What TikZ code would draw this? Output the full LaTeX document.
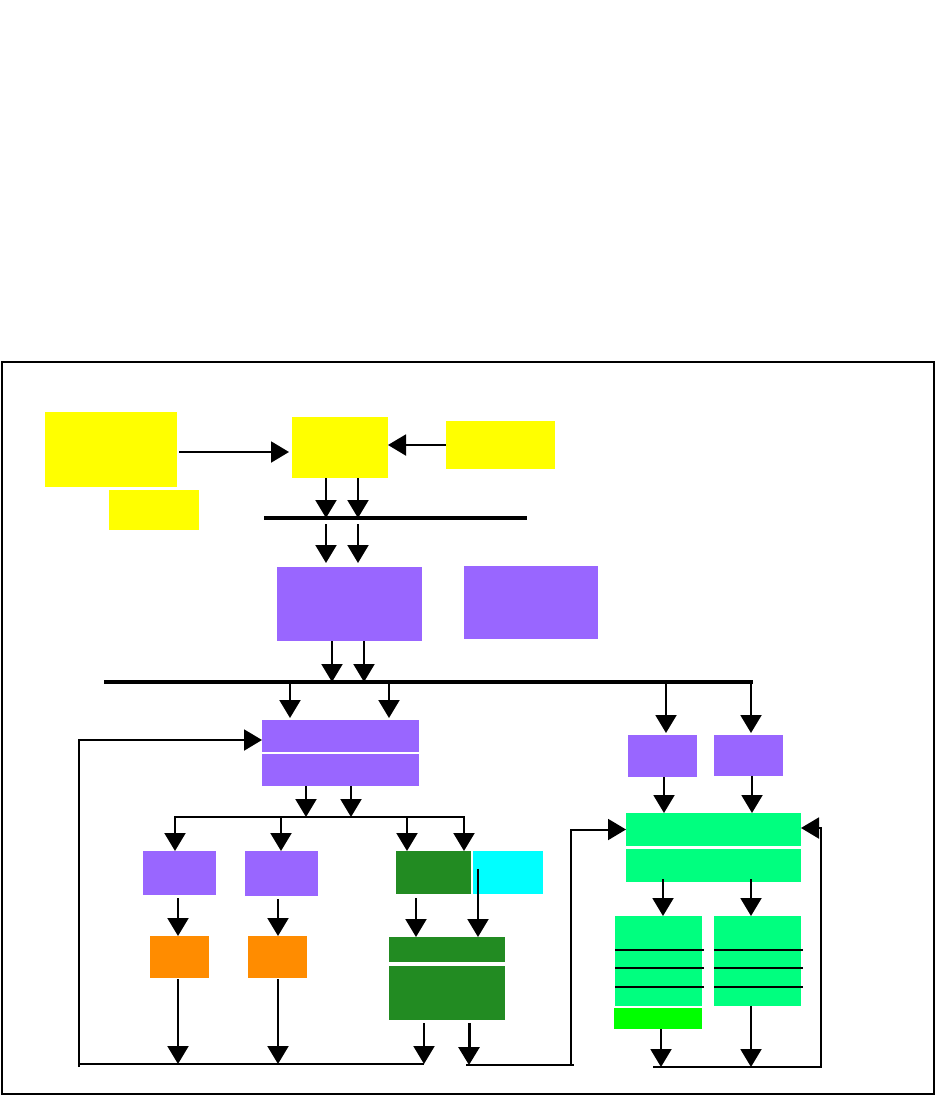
\documentclass[tikz,border=0pt]{standalone}
\usepackage{xcolor}
\usepackage{tikz}
\usetikzlibrary{arrows.meta}
\definecolor{ylw}{HTML}{FFFF00}
\definecolor{vio}{HTML}{9966FF}
\definecolor{orng}{HTML}{FF8C00}
\definecolor{fgrn}{HTML}{228B22}
\definecolor{cyn}{HTML}{00FFFF}
\definecolor{sgrn}{HTML}{00FF7F}
\definecolor{lgrn}{HTML}{00FF00}

\begin{document}
\begin{tikzpicture}[x=1pt, y=-1pt, box/.style={inner sep=0pt, outer sep=0pt, anchor=north west}, arr/.style={-{Triangle[length=18pt,width=21pt]}, line width=2pt}, arrr/.style={{Triangle[length=18pt,width=21pt]}-{Triangle[length=18pt,width=21pt]}, line width=2pt}, link/.style={line width=2pt}, bus/.style={line width=4.5pt}, rule/.style={line width=1.7pt}]
\useasboundingbox (0,0) rectangle (936,1096);
\draw[line width=1.3pt] (2,362) rectangle (934,1094);
% top row
\node[box, fill=ylw, minimum width=132pt, minimum height=75pt] (y1) at (45,412) {};
\node[box, fill=ylw, minimum width=90pt, minimum height=40pt] (y2) at (109,490) {};
\node[box, fill=ylw, minimum width=96pt, minimum height=61pt] (y3) at (292,417) {};
\node[box, fill=ylw, minimum width=109pt, minimum height=48pt] (y4) at (446,421) {};
\node[box, fill=vio, minimum width=145pt, minimum height=74pt] (p1) at (277,567) {};
\node[box, fill=vio, minimum width=134pt, minimum height=73pt] (p2) at (464,566) {};
% left branch
\node[box, fill=vio, minimum width=157pt, minimum height=32pt] (p3a) at (262,720) {};
\node[box, fill=vio, minimum width=157pt, minimum height=32pt] (p3b) at (262,754) {};
\node[box, fill=vio, minimum width=73pt, minimum height=44pt] (p6) at (143,851) {};
\node[box, fill=vio, minimum width=73pt, minimum height=45pt] (p7) at (245,851) {};
\node[box, fill=orng, minimum width=59pt, minimum height=42pt] (o1) at (150,936) {};
\node[box, fill=orng, minimum width=59pt, minimum height=42pt] (o2) at (248,936) {};
\node[box, fill=fgrn, minimum width=75pt, minimum height=43pt] (dg1) at (396,851) {};
\node[box, fill=cyn, minimum width=70pt, minimum height=43pt] (cy) at (473,851) {};
\node[box, fill=fgrn, minimum width=116pt, minimum height=25pt] (dg2) at (389,937) {};
\node[box, fill=fgrn, minimum width=116pt, minimum height=54pt] (dg3) at (389,966) {};
% right branch
\node[box, fill=vio, minimum width=69pt, minimum height=42pt] (p4) at (628,735) {};
\node[box, fill=vio, minimum width=69pt, minimum height=41pt] (p5) at (714,735) {};
\node[box, fill=sgrn, minimum width=175pt, minimum height=33pt] (g1a) at (626,813) {};
\node[box, fill=sgrn, minimum width=175pt, minimum height=33pt] (g1b) at (626,849) {};
\node[box, fill=sgrn, minimum width=87pt, minimum height=90pt] (g3) at (615,916) {};
\node[box, fill=sgrn, minimum width=87pt, minimum height=90pt] (g4) at (714,916) {};
\node[box, fill=lgrn, minimum width=88pt, minimum height=21pt] (g5) at (614,1008) {};
\foreach \ry/\rw in {950/1.7pt,968/2.4pt,987/1.7pt} {
  \draw[rule, line width=\rw] (g3.west |- 0,\ry) -- ++(89,0);
  \draw[rule, line width=\rw] (g4.west |- 0,\ry) -- ++(89,0);
}
% buses
\coordinate (b1) at (264,518);
\coordinate (b1e) at (527,518);
\coordinate (b2) at (104,682);
\coordinate (b2e) at (753,682);
\coordinate (b3) at (175,817);
\coordinate (b3e) at (464,817);
\coordinate (fbl) at (79,1064);
\coordinate (ml) at (466,1065);
\coordinate (mr) at (571,1065);
\coordinate (rl) at (653,1067);
\coordinate (rr) at (821,1067);
% top arrows
\draw[arr] ([xshift=2pt]y1.east |- 0,452) -- ([xshift=-3pt]y3.west |- 0,452);
\draw[arr] (y4.west) -- (y4.west -| y3.east);
\foreach \cx in {326,358} {
  \draw[arr] (\cx,0 |- y3.south) -- (\cx,0 |- b1);
  \draw[arr, shorten <=6pt] (\cx,0 |- b1) -- ([yshift=4pt]\cx,0 |- p1.north);
}
\draw[bus] (b1) -- (b1e);
\foreach \cx in {332,364} \draw[arr] (\cx,0 |- p1.south) -- (\cx,0 |- b2);
\draw[bus] (b2) -- (b2e);
\foreach \cx in {290,389} \draw[arr] (\cx,0 |- b2) -- ([yshift=2pt]\cx,0 |- p3a.north);
\draw[arr] (666,0 |- b2) -- ([yshift=2pt]666,0 |- p4.north);
\draw[arr] (751,0 |- b2) -- ([yshift=2pt]751,0 |- p5.north);
% left branch arrows
\foreach \cx in {306,351} \draw[arr] (\cx,0 |- p3b.south) -- (\cx,0 |- b3);
\draw[arrr] (b3 |- p6.north) -- (b3) -- (b3e) -- (b3e |- dg1.north);
\draw[arr] (281,0 |- b3) -- (281,0 |- p7.north);
\draw[arr] (407,0 |- b3) -- (407,0 |- dg1.north);
\draw[arr, shorten <=3pt] (178,0 |- p6.south) -- (178,0 |- o1.north);
\draw[arr, shorten <=3pt] (278,0 |- p7.south) -- (278,0 |- o2.north);
\draw[arr, shorten <=1pt] (178,0 |- o1.south) -- (178,0 |- fbl);
\draw[arr, shorten <=1pt] (278,0 |- o2.south) -- (278,0 |- fbl);
\draw[arr, shorten <=4pt] (416,0 |- dg1.south) -- (416,0 |- dg2.north);
\draw[arr] (478,0 |- 0,869) -- (478,0 |- dg2.north);
\draw[arr, shorten <=3pt] (424,0 |- dg3.south) -- (424,0 |- fbl);
\draw[arr, line width=3pt, shorten <=3pt] (469,0 |- dg3.south) -- (469,0 |- ml);
\draw[link] (79,1067) -- (fbl);
\draw[arr] (424,0 |- fbl) -- (fbl) |- ([yshift=-4pt]p3a.west);
\draw[link] (ml) -- ([xshift=3pt]mr);
\draw[arr] (ml) -- (mr) |- (g1a.west);
% right branch arrows
\draw[arr] (664,0 |- p4.south) -- (664,0 |- g1a.north);
\draw[arr] (752,0 |- p5.south) -- (752,0 |- g1a.north);
\draw[arr, shorten <=-3pt] (663,0 |- g1b.south) -- (663,0 |- g3.north);
\draw[arr, shorten <=-3pt] (751,0 |- g1b.south) -- (751,0 |- g4.north);
\draw[arr] (661,0 |- g5.south) -- (661,0 |- rl);
\draw[arr] (751,0 |- g4.south) -- (751,0 |- rl);
\draw[arr] (rl) -- (rr) |- ([yshift=1.5pt]g1a.east);
\end{tikzpicture}
\end{document}
